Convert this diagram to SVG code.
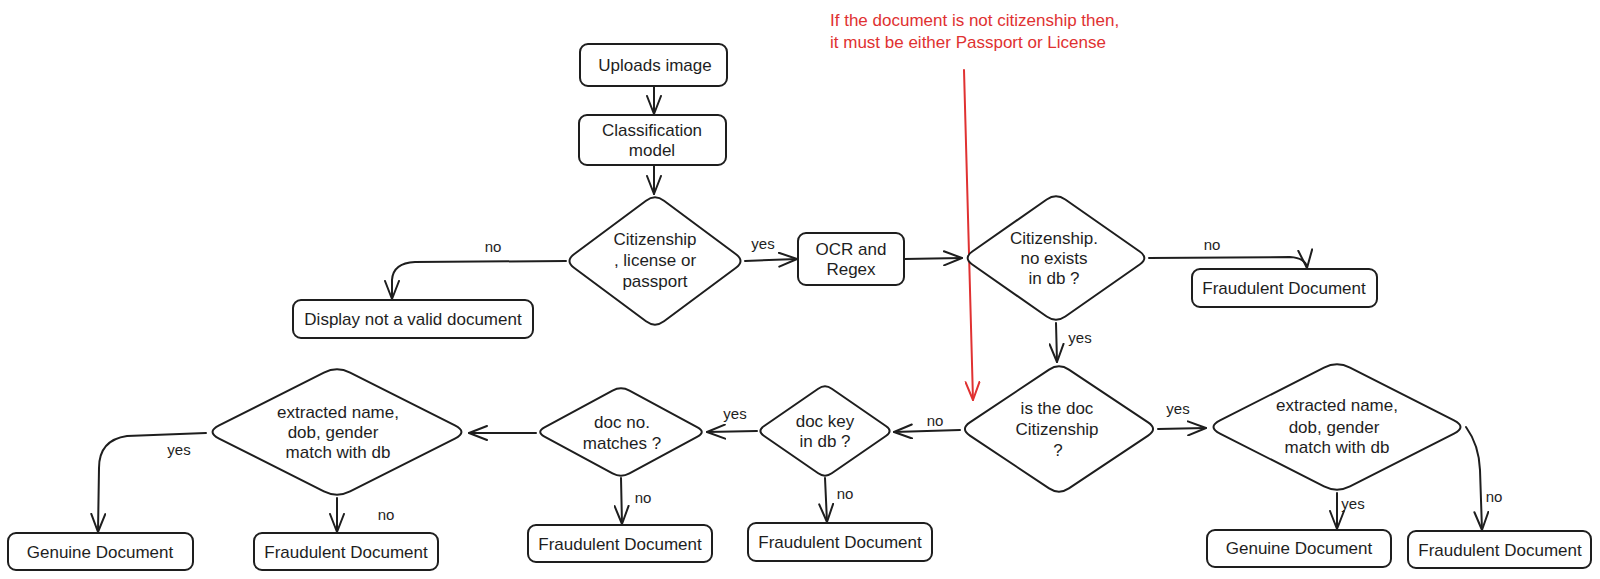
<svg xmlns="http://www.w3.org/2000/svg" width="1600" height="579" viewBox="0 0 1600 579">
<style>
.box{fill:#fff;stroke:#1e1e1e;stroke-width:2}
.dia{fill:#fff;stroke:#1e1e1e;stroke-width:2;stroke-linejoin:round}
.t{font-family:"Liberation Sans",Arial,sans-serif;font-size:17px;fill:#1e1e1e;text-anchor:middle;dominant-baseline:central}
.lbl{font-family:"Liberation Sans",Arial,sans-serif;font-size:15px;fill:#1e1e1e;text-anchor:middle;dominant-baseline:central}
.c{fill:none;stroke:#1e1e1e;stroke-width:2;stroke-linecap:round;marker-end:url(#ah)}
.note{font-family:"Liberation Sans",Arial,sans-serif;font-size:17px;fill:#e03131}
</style>
<defs>
<marker id="ah" viewBox="0 0 20 16" refX="19" refY="8" markerWidth="20" markerHeight="16" markerUnits="userSpaceOnUse" orient="auto">
<path d="M1,1 L19,8 L1,15" fill="none" stroke="#1e1e1e" stroke-width="2" stroke-linecap="round" stroke-linejoin="round"/>
</marker>
<marker id="ahr" viewBox="0 0 20 16" refX="19" refY="8" markerWidth="20" markerHeight="16" markerUnits="userSpaceOnUse" orient="auto">
<path d="M1,1 L19,8 L1,15" fill="none" stroke="#e03131" stroke-width="2" stroke-linecap="round" stroke-linejoin="round"/>
</marker>
</defs>
<rect width="1600" height="579" fill="#fff"/>

<g id="connectors">
<path class="c" d="M654,86 L654,114"/>
<path class="c" d="M654,165 L654,194"/>
<path class="c" d="M566,261 L415,262 Q393,263 392,280 L392,299"/>
<path class="c" d="M745,261 L797,259"/>
<path class="c" d="M904,259 L962,258"/>
<path class="c" d="M1149,258 L1290,257 Q1306,258 1307,268"/>
<path class="c" d="M1056,323 L1057,362"/>
<path class="c" d="M1158,429 L1206,428"/>
<path class="c" d="M960,430 L894,432"/>
<path class="c" d="M757,431 L707,432"/>
<path class="c" d="M536,433 L469,433"/>
<path class="c" d="M206,433 L127,436 Q99,440 99,468 L98,532"/>
<path class="c" d="M337,498 L337,532"/>
<path class="c" d="M621,478 L622,524"/>
<path class="c" d="M825,478 L827,522"/>
<path class="c" d="M1337,493 L1337,529"/>
<path class="c" d="M1466,427 Q1479,445 1480,470 L1482,530"/>
<path d="M964,70 L973,400" fill="none" stroke="#e03131" stroke-width="2" stroke-linecap="round" marker-end="url(#ahr)"/>
</g>

<g id="labels">
<text class="lbl" x="493" y="246">no</text>
<text class="lbl" x="763" y="243">yes</text>
<text class="lbl" x="1212" y="244">no</text>
<text class="lbl" x="1080" y="337">yes</text>
<text class="lbl" x="1178" y="408">yes</text>
<text class="lbl" x="935" y="420">no</text>
<text class="lbl" x="735" y="413">yes</text>
<text class="lbl" x="643" y="497">no</text>
<text class="lbl" x="845" y="493">no</text>
<text class="lbl" x="179" y="449">yes</text>
<text class="lbl" x="386" y="514">no</text>
<text class="lbl" x="1353" y="503">yes</text>
<text class="lbl" x="1494" y="496">no</text>
</g>

<g id="note">
<text class="note" x="830" y="26">If the document is not citizenship then,</text>
<text class="note" x="830" y="48">it must be either Passport or License</text>
</g>

<g id="n-upload">
<rect class="box" x="580" y="44" width="147" height="42" rx="8"/>
<text class="t" x="655" y="65">Uploads image</text>
</g>
<g id="n-class">
<rect class="box" x="579" y="115" width="147" height="50" rx="8"/>
<text class="t" x="652" y="130">Classification</text>
<text class="t" x="652" y="150">model</text>
</g>
<g id="n-d1">
<path class="dia" d="M646,200.7 Q655,194 664,200.7 L736,254.3 Q745,261 736,267.7 L664,321.3 Q655,328 646,321.3 L574,267.7 Q565,261 574,254.3 Z"/>
<text class="t" x="655" y="239">Citizenship</text>
<text class="t" x="655" y="260">, license or</text>
<text class="t" x="655" y="281">passport</text>
</g>
<g id="n-display">
<rect class="box" x="293" y="300" width="240" height="38" rx="8"/>
<text class="t" x="413" y="319">Display not a valid document</text>
</g>
<g id="n-ocr">
<rect class="box" x="798" y="233" width="106" height="52" rx="8"/>
<text class="t" x="851" y="249">OCR and</text>
<text class="t" x="851" y="269">Regex</text>
</g>
<g id="n-d2">
<path class="dia" d="M1046.7,199.5 Q1056,193 1065.3,199.5 L1139.7,251.5 Q1149,258 1139.7,264.5 L1065.3,316.5 Q1056,323 1046.7,316.5 L972.3,264.5 Q963,258 972.3,251.5 Z"/>
<text class="t" x="1054" y="238">Citizenship.</text>
<text class="t" x="1054" y="258">no exists</text>
<text class="t" x="1054" y="278">in db ?</text>
</g>
<g id="n-fraud-top">
<rect class="box" x="1192" y="269" width="185" height="38" rx="8"/>
<text class="t" x="1284" y="288">Fraudulent Document</text>
</g>
<g id="n-d3">
<path class="dia" d="M1049.1,369.6 Q1059,363 1068.9,369.6 L1148.1,422.4 Q1158,429 1148.1,435.6 L1068.9,488.4 Q1059,495 1049.1,488.4 L969.9,435.6 Q960,429 969.9,422.4 Z"/>
<text class="t" x="1057" y="408">is the doc</text>
<text class="t" x="1057" y="429">Citizenship</text>
<text class="t" x="1058" y="450">?</text>
</g>
<g id="n-d4">
<path class="dia" d="M1324,367.6 Q1337,361 1350,367.6 L1454,420.4 Q1467,427 1454,433.6 L1350,486.4 Q1337,493 1324,486.4 L1220,433.6 Q1207,427 1220,420.4 Z"/>
<text class="t" x="1337" y="405">extracted name,</text>
<text class="t" x="1334" y="427">dob, gender</text>
<text class="t" x="1337" y="447">match with db</text>
</g>
<g id="n-genuine-right">
<rect class="box" x="1207" y="530" width="184" height="37" rx="8"/>
<text class="t" x="1299" y="548">Genuine Document</text>
</g>
<g id="n-fraud-right">
<rect class="box" x="1408" y="531" width="183" height="37" rx="8"/>
<text class="t" x="1500" y="550">Fraudulent Document</text>
</g>
<g id="n-d5">
<path class="dia" d="M818.2,388.7 Q825,384 831.8,388.7 L886.2,426.3 Q893,431 886.2,435.7 L831.8,473.3 Q825,478 818.2,473.3 L763.8,435.7 Q757,431 763.8,426.3 Z"/>
<text class="t" x="825" y="421">doc key</text>
<text class="t" x="825" y="441">in db ?</text>
</g>
<g id="n-fraud-mid2">
<rect class="box" x="748" y="523" width="184" height="38" rx="8"/>
<text class="t" x="840" y="542">Fraudulent Document</text>
</g>
<g id="n-d6">
<path class="dia" d="M612.5,390.6 Q621,386 629.5,390.6 L697.5,427.4 Q706,432 697.5,436.6 L629.5,473.4 Q621,478 612.5,473.4 L544.5,436.6 Q536,432 544.5,427.4 Z"/>
<text class="t" x="622" y="422">doc no.</text>
<text class="t" x="622" y="443">matches ?</text>
</g>
<g id="n-fraud-mid1">
<rect class="box" x="528" y="525" width="184" height="37" rx="8"/>
<text class="t" x="620" y="544">Fraudulent Document</text>
</g>
<g id="n-d7">
<path class="dia" d="M323.9,372.6 Q337,366 350.1,372.6 L454.9,425.4 Q468,432 454.9,438.6 L350.1,491.4 Q337,498 323.9,491.4 L219.1,438.6 Q206,432 219.1,425.4 Z"/>
<text class="t" x="338" y="412">extracted name,</text>
<text class="t" x="333" y="432">dob, gender</text>
<text class="t" x="338" y="452">match with db</text>
</g>
<g id="n-genuine-left">
<rect class="box" x="8" y="533" width="185" height="37" rx="8"/>
<text class="t" x="100" y="552">Genuine Document</text>
</g>
<g id="n-fraud-left">
<rect class="box" x="254" y="533" width="184" height="37" rx="8"/>
<text class="t" x="346" y="552">Fraudulent Document</text>
</g>
</svg>
